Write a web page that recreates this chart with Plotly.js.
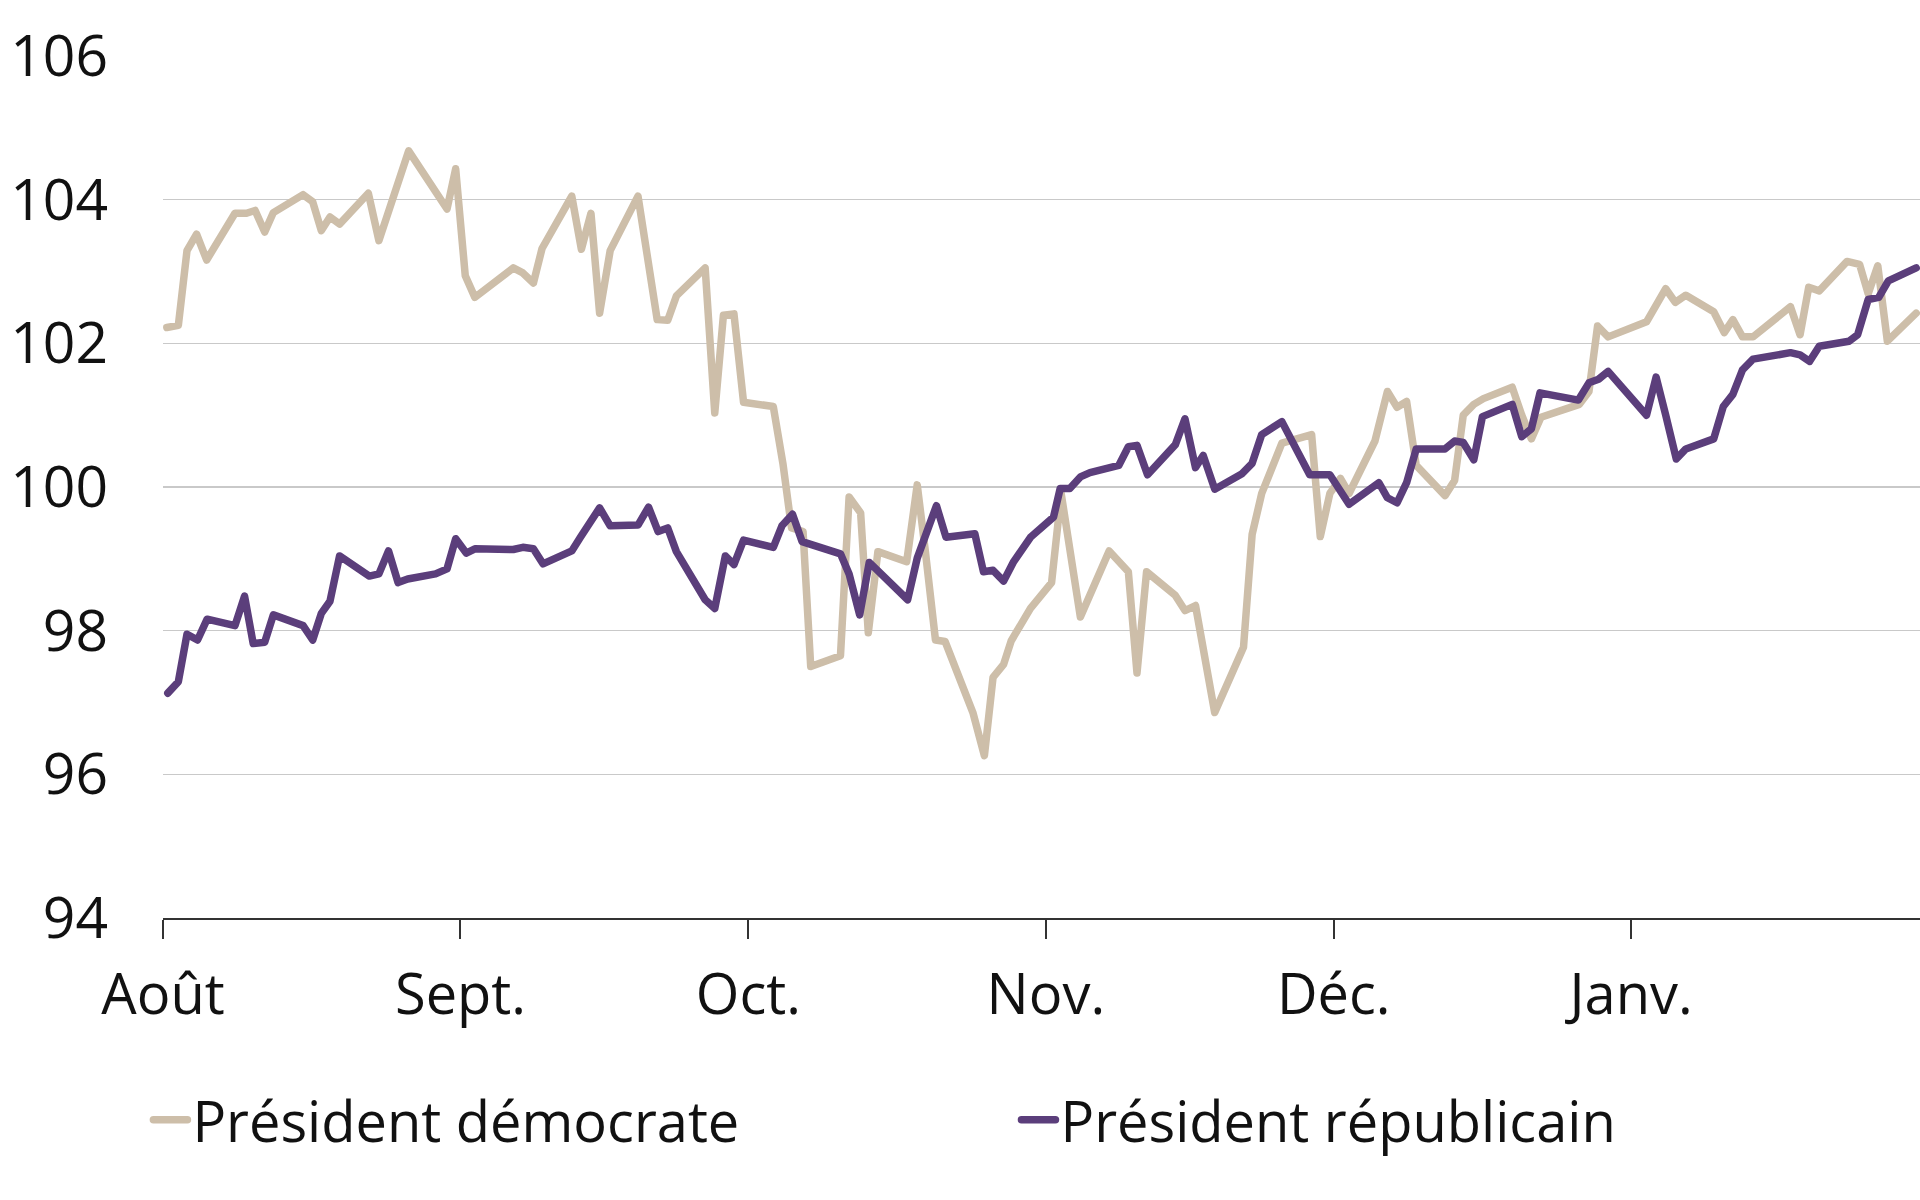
<!DOCTYPE html>
<html>
<head>
<meta charset="utf-8">
<script src="https://cdn.plot.ly/plotly-3.0.1.min.js"></script>
<style>
  html, body { margin: 0; padding: 0; background: #fff; }
  #chart { width: 1920px; height: 1200px; }
  path.js-line { stroke-linejoin: round !important; stroke-linecap: round !important; }
</style>
</head>
<body>
<div id="chart"></div>
<script>
// Days since 1 August (x) and index values (y)
const demJours = [0.4,1.6,2.5,3.5,4.55,7.5,8.7,9.6,10.6,11.5,14.6,15.6,16.5,17.4,18.4,21.4,22.5,23.5,24.4,25.6,
  29.6,30.5,31.5,32.5,36.5,37.5,38.6,39.5,42.6,43.6,44.6,45.5,46.6,49.5,51.5,52.6,53.5,56.5,57.5,58.4,
  59.5,60.5,63.6,64.6,65.5,66.7,67.5,70.6,71.5,72.7,73.5,74.5,77.5,78.6,79.4,80.5,81.5,84.4,85.6,86.5,
  87.6,88.4,90.4,91.6,92.6,93.6,95.6,98.6,99.7,100.6,101.5,102.5,105.5,106.5,107.6,109.6,112.6,113.5,114.5,116.6,
  119.7,120.6,121.6,122.7,123.6,126.3,127.6,128.6,129.6,130.6,133.6,134.6,135.5,136.6,137.6,140.6,141.6,142.6,143.6,147.6,
  148.6,149.5,150.6,154.6,156.6,157.6,158.7,161.6,162.7,163.6,164.6,165.7,169.6,170.6,171.5,172.6,175.5,176.8,177.7,178.7,
  179.7,182.7];
const demValeurs = [102.22,102.25,103.29,103.52,103.16,103.81,103.81,103.85,103.55,103.82,104.07,103.97,103.57,103.76,103.66,104.09,103.43,103.84,104.14,104.68,
  103.87,104.43,102.94,102.64,103.05,102.98,102.84,103.32,104.05,103.31,103.81,102.42,103.29,104.05,102.33,102.32,102.66,103.05,101.03,102.39,
  102.41,101.18,101.12,100.33,99.43,99.38,97.50,97.65,99.86,99.64,97.97,99.10,98.96,100.03,99.16,97.87,97.85,96.86,96.26,97.35,
  97.53,97.86,98.31,98.52,98.67,99.91,98.19,99.11,98.95,98.82,97.41,98.82,98.49,98.28,98.35,96.86,97.77,99.34,99.91,100.61,
  100.73,99.31,99.91,100.12,99.91,100.64,101.33,101.11,101.19,100.30,99.88,100.09,101.00,101.15,101.23,101.39,101.00,100.67,100.97,101.15,
  101.33,102.24,102.09,102.30,102.76,102.57,102.67,102.44,102.15,102.33,102.09,102.09,102.51,102.12,102.78,102.73,103.14,103.10,102.69,103.08,
  102.03,102.42];

const repJours = [0.5,1.6,2.5,3.6,4.6,7.5,8.5,9.4,10.6,11.5,14.6,15.6,16.5,17.4,18.4,21.5,22.5,23.5,24.5,25.5,
  28.4,29.6,30.5,31.6,32.5,36.5,37.5,38.6,39.6,42.6,43.5,44.3,45.5,46.6,49.5,50.6,51.6,52.6,53.5,56.5,
  57.5,58.6,59.5,60.5,63.6,64.5,65.6,66.6,70.6,71.5,72.6,73.6,77.6,78.6,80.6,81.6,84.6,85.5,86.5,87.6,
  88.6,90.4,92.8,93.5,94.5,95.6,96.6,99.6,100.6,101.5,102.6,105.5,106.5,107.6,108.4,109.6,112.4,113.5,114.5,116.6,
  119.5,121.6,122.7,123.6,126.7,127.6,128.6,129.6,130.6,133.6,134.6,135.5,136.6,137.5,140.6,141.6,142.6,143.5,147.5,148.6,
  149.6,150.6,154.6,155.6,156.6,157.7,158.7,161.6,162.6,163.6,164.6,165.7,169.6,170.6,171.6,172.6,175.7,176.6,177.7,178.8,
  179.8,182.7];
const repValeurs = [97.13,97.29,97.95,97.87,98.16,98.07,98.48,97.82,97.84,98.22,98.07,97.87,98.24,98.41,99.04,98.76,98.79,99.11,98.67,98.72,
  98.79,98.86,99.28,99.08,99.14,99.13,99.16,99.14,98.93,99.11,99.30,99.46,99.71,99.46,99.47,99.72,99.38,99.43,99.10,98.43,
  98.31,99.04,98.92,99.26,99.16,99.46,99.62,99.24,99.07,98.79,98.22,98.95,98.43,99.01,99.74,99.30,99.35,98.82,98.84,98.69,
  98.95,99.30,99.58,99.98,99.98,100.14,100.20,100.30,100.56,100.58,100.17,100.59,100.95,100.27,100.44,99.97,100.18,100.33,100.73,100.91,
  100.17,100.17,99.94,99.76,100.06,99.85,99.78,100.06,100.53,100.53,100.64,100.62,100.38,100.98,101.15,100.70,100.81,101.31,101.21,101.45,
  101.50,101.61,101.00,101.53,101.00,100.39,100.53,100.67,101.12,101.29,101.63,101.78,101.87,101.84,101.75,101.96,102.03,102.12,102.61,102.64,
  102.87,103.05];

const moisPositions = [0, 31, 61, 92, 122, 153];
const moisLabels = ['Août', 'Sept.', 'Oct.', 'Nov.', 'Déc.', 'Janv.'];
const yTicks = [94, 96, 98, 100, 102, 104, 106];
const noms = ['Président démocrate', 'Président républicain'];

const FONT = '"Open Sans", "Noto Sans", sans-serif';

const traces = [
  { x: demJours, y: demValeurs, name: noms[0], type: 'scatter', mode: 'lines',
    legend: 'legend', line: { color: '#CDBEA9', width: 7.5 } },
  { x: repJours, y: repValeurs, name: noms[1], type: 'scatter', mode: 'lines',
    legend: 'legend2', line: { color: '#5B3E7B', width: 7.5 } }
];

const legendBase = {
  orientation: 'h', xref: 'container', yref: 'container',
  y: 0.0667, xanchor: 'left', yanchor: 'middle',
  font: { family: FONT, size: 56, color: '#111111' },
  itemwidth: 34, bgcolor: 'rgba(0,0,0,0)', borderwidth: 0
};

const layout = {
  width: 1920, height: 1200,
  margin: { l: 163, r: 0, t: 56, b: 282 },
  paper_bgcolor: '#ffffff', plot_bgcolor: '#ffffff',
  font: { family: FONT, size: 56, color: '#111111' },
  showlegend: true,
  legend: Object.assign({}, legendBase, { x: 0.0773 }),
  legend2: Object.assign({}, legendBase, { x: 0.5294 }),
  xaxis: {
    range: [0, 183.1], tickmode: 'array', tickvals: moisPositions, ticktext: moisLabels,
    showgrid: false, zeroline: false,
    showline: true, linecolor: '#333333', linewidth: 2,
    ticks: 'outside', ticklen: 19, tickwidth: 2, tickcolor: '#333333',
    tickfont: { family: FONT, size: 56, color: '#111111' },
    ticklabelstandoff: 8
  },
  yaxis: {
    range: [94, 106], tickmode: 'array', tickvals: yTicks,
    showgrid: true, gridcolor: '#c9c9c9', gridwidth: 1.5,
    zeroline: false, showline: false, ticks: '',
    tickfont: { family: FONT, size: 57, color: '#111111' },
    ticklabelstandoff: 54
  }
};

Plotly.newPlot('chart', traces, layout, { displayModeBar: false, staticPlot: true });
</script>
</body>
</html>
